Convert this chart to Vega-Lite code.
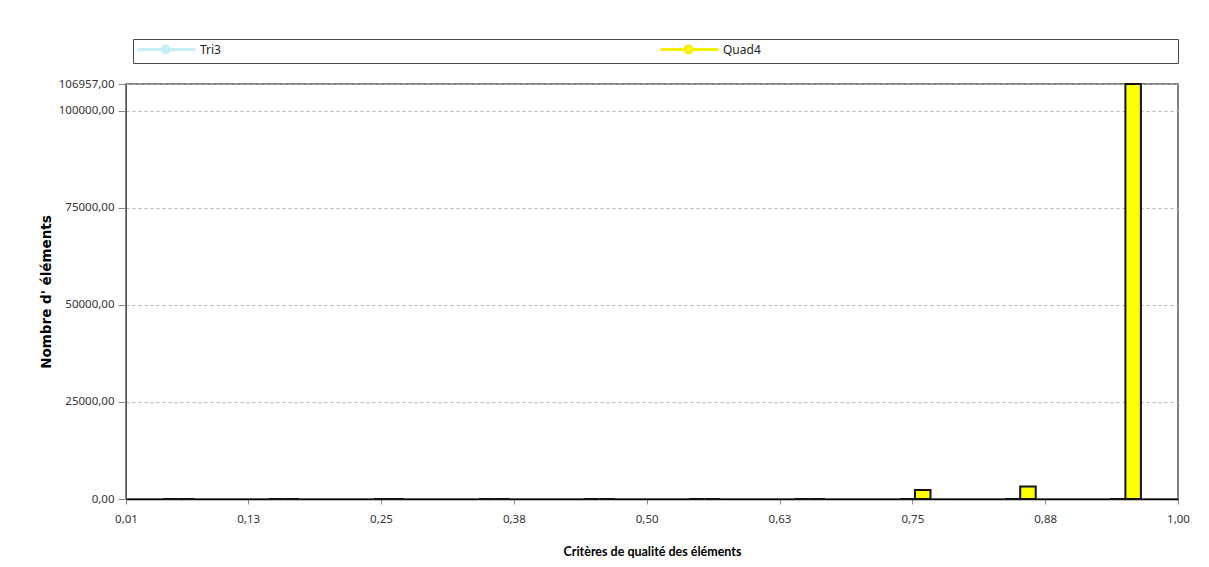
{
  "$schema": "https://vega.github.io/schema/vega-lite/v6.json",
  "width": 1052,
  "height": 415,
  "autosize": {"type": "none"},
  "padding": {"left": 126, "top": 84, "right": 31, "bottom": 68},
  "background": "white",
  "config": {
    "view": {"stroke": "#5a5a5a", "strokeWidth": 1.5},
    "axis": {
      "labelFont": "Noto Sans",
      "labelFontSize": 11.5,
      "labelColor": "#333333",
      "labelFlush": false,
      "labelOverlap": false,
      "grid": true,
      "gridDash": [3, 3],
      "gridColor": "#b4b4b4",
      "tickColor": "#888888",
      "titleColor": "#000000"
    }
  },
  "data": {
    "values": [
      {"bin_start": 0.01, "bin_end": 0.109, "series": "Tri3", "count": 0},
      {"bin_start": 0.01, "bin_end": 0.109, "series": "Quad4", "count": 0},
      {"bin_start": 0.109, "bin_end": 0.208, "series": "Tri3", "count": 0},
      {"bin_start": 0.109, "bin_end": 0.208, "series": "Quad4", "count": 0},
      {"bin_start": 0.208, "bin_end": 0.307, "series": "Tri3", "count": 0},
      {"bin_start": 0.208, "bin_end": 0.307, "series": "Quad4", "count": 0},
      {"bin_start": 0.307, "bin_end": 0.406, "series": "Tri3", "count": 0},
      {"bin_start": 0.307, "bin_end": 0.406, "series": "Quad4", "count": 0},
      {"bin_start": 0.406, "bin_end": 0.505, "series": "Tri3", "count": 0},
      {"bin_start": 0.406, "bin_end": 0.505, "series": "Quad4", "count": 0},
      {"bin_start": 0.505, "bin_end": 0.604, "series": "Tri3", "count": 0},
      {"bin_start": 0.505, "bin_end": 0.604, "series": "Quad4", "count": 0},
      {"bin_start": 0.604, "bin_end": 0.703, "series": "Tri3", "count": 0},
      {"bin_start": 0.604, "bin_end": 0.703, "series": "Quad4", "count": 0},
      {"bin_start": 0.703, "bin_end": 0.802, "series": "Tri3", "count": 0},
      {"bin_start": 0.703, "bin_end": 0.802, "series": "Quad4", "count": 2300},
      {"bin_start": 0.802, "bin_end": 0.901, "series": "Tri3", "count": 0},
      {"bin_start": 0.802, "bin_end": 0.901, "series": "Quad4", "count": 3250},
      {"bin_start": 0.901, "bin_end": 1.0, "series": "Tri3", "count": 0},
      {"bin_start": 0.901, "bin_end": 1.0, "series": "Quad4", "count": 106957}
    ]
  },
  "encoding": {
    "x": {
      "field": "bin_start",
      "type": "ordinal",
      "scale": {"paddingInner": 0.705, "paddingOuter": 0.3525},
      "axis": null
    },
    "xOffset": {
      "field": "series",
      "type": "nominal",
      "scale": {"domain": ["Tri3", "Quad4"], "paddingInner": 0, "paddingOuter": 0}
    },
    "y": {
      "field": "count",
      "type": "quantitative",
      "scale": {"domain": [0, 106957], "nice": false, "zero": true},
      "title": "Nombre d' éléments",
      "axis": {
        "values": [0, 25000, 50000, 75000, 100000, 106957],
        "labelExpr": "replace(format(datum.value, '.2f'), '.', ',')",
        "tickSize": 8,
        "labelPadding": 4,
        "domainColor": "#555555",
        "titleFont": "DejaVu Sans",
        "titleFontWeight": "bold",
        "titleFontSize": 13.5,
        "titlePadding": 5
      }
    }
  },
  "layer": [
    {
      "mark": {"type": "bar", "filled": false, "strokeWidth": 1},
      "encoding": {
        "color": {
          "field": "series",
          "type": "nominal",
          "scale": {"domain": ["Tri3", "Quad4"], "range": ["#c8eef8", "#f2f200"]},
          "legend": {
            "orient": "none",
            "legendX": 7,
            "legendY": -45,
            "direction": "horizontal",
            "title": null,
            "strokeColor": "#4a4a4a",
            "padding": 4,
            "columnPadding": 3,
            "labelLimit": 0,
            "labelOffset": 50,
            "labelFont": "Noto Sans",
            "labelFontSize": 12,
            "labelColor": "#222222",
            "symbolType": "M-1.2,0H3.7M5.1,0H10.4M5.1,0A0.7,0.7,0,1,1,3.7,0A0.7,0.7,0,1,1,5.1,0M100.3,0L100.3,0",
            "symbolSize": 100,
            "symbolStrokeWidth": 3,
            "symbolOpacity": 1
          }
        }
      }
    },
    {
      "mark": {"type": "bar", "stroke": "#111111", "strokeWidth": 2},
      "encoding": {
        "fill": {
          "field": "series",
          "type": "nominal",
          "scale": {"domain": ["Tri3", "Quad4"], "range": ["#c8eef8", "#ffff00"]},
          "legend": null
        }
      }
    },
    {
      "mark": {"type": "point", "opacity": 0},
      "encoding": {
        "x": {
          "field": "bin_start",
          "type": "quantitative",
          "scale": {"domain": [0.01, 1], "nice": false, "zero": false},
          "title": "Critères de qualité des éléments",
          "axis": {
            "values": [0.01, 0.125, 0.25, 0.375, 0.5, 0.625, 0.75, 0.875, 1],
            "labelExpr": "replace(format(datum.value, '.2f'), '.', ',')",
            "tickSize": 5,
            "labelPadding": 9,
            "domainColor": "#000000",
            "domainWidth": 1.5,
            "titleFont": "Lato",
            "titleFontWeight": "bold",
            "titleFontSize": 12.5,
            "titlePadding": 21
          }
        },
        "xOffset": null
      }
    }
  ],
  "resolve": {"scale": {"x": "independent"}}
}
